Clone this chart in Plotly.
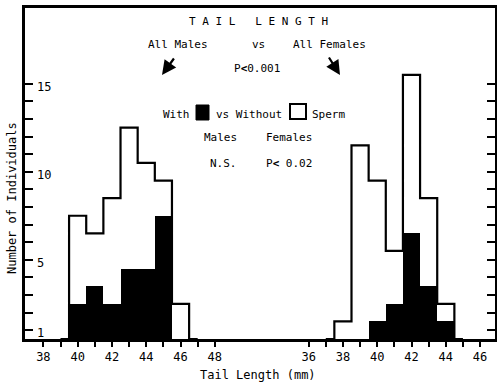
import plotly.graph_objects as go

# ---------------- data ----------------
male_bins = [40, 41, 42, 43, 44, 45, 46]
male_total = [7, 6, 8, 12, 10, 9, 2]
male_with = [2, 3, 2, 4, 4, 7, 0]

female_bins = [38, 39, 40, 41, 42, 43, 44]
female_total = [1, 11, 9, 5, 15, 8, 2]
female_with = [0, 0, 1, 2, 6, 3, 1]

male_ticks = list(range(38, 49))
female_ticks = list(range(36, 47))
count_ticks = list(range(1, 16))
count_labels = ["1", "5", "10", "15"]
# ---------------------------------------

W, H = 497, 384
L, R, T, B = 25, 2, 8, 45
PW, PH = W - L - R, H - T - B
FONT = "DejaVu Sans Mono"


def px(x):
    return (x - L) / PW


def py(y):
    return (H - B - y) / PH


def even_labels(vals):
    return [str(v) if v % 2 == 0 else "" for v in vals]


def outline(bins, totals):
    xs = [bins[0] - 1] + list(bins) + [bins[-1] + 1]
    ys = [0] + list(totals) + [0]
    return xs, ys


fig = go.Figure()

# males (left panel)
fig.add_trace(go.Bar(x=male_bins, y=male_with, width=1, marker=dict(color="black", line=dict(width=0)),
                     xaxis="x", yaxis="y", showlegend=False))
mx, my = outline(male_bins, male_total)
fig.add_trace(go.Scatter(x=mx, y=my, mode="lines", line=dict(color="black", width=2.2, shape="hvh"),
                         xaxis="x", yaxis="y", showlegend=False))

# females (right panel)
fig.add_trace(go.Bar(x=female_bins, y=female_with, width=1, marker=dict(color="black", line=dict(width=0)),
                     xaxis="x2", yaxis="y2", showlegend=False))
fx, fy = outline(female_bins, female_total)
fig.add_trace(go.Scatter(x=fx, y=fy, mode="lines", line=dict(color="black", width=2.2, shape="hvh"),
                         xaxis="x2", yaxis="y2", showlegend=False))

d = (262 - L) / PW
# ticks sit half a unit below each count (bar baseline is at 0)
ytv = [k - 0.5 for k in count_ticks]

xcommon = dict(showline=True, linewidth=3, linecolor="black", mirror=True, ticks="outside", ticklen=5,
               tickwidth=2, tickcolor="black", showgrid=False, zeroline=False,
               tickfont=dict(family=FONT, size=12, color="black"))
ycommon = dict(showline=True, linewidth=3, linecolor="black", ticks="inside", ticklen=8, tickwidth=2,
               tickcolor="black", showgrid=False, zeroline=False, range=[0, 18.8], domain=[0, 1],
               tickvals=ytv, showticklabels=False)

fig.update_layout(
    width=W, height=H, margin=dict(l=L, r=R, t=T, b=B, pad=0),
    paper_bgcolor="white", plot_bgcolor="white", bargap=0,
    font=dict(family=FONT, size=11, color="black"),
    xaxis=dict(domain=[0, d], range=[36.93, 50.75], anchor="y", tickvals=male_ticks,
               ticktext=even_labels(male_ticks), **xcommon),
    xaxis2=dict(domain=[d, 1], range=[33.28, 46.87], anchor="y2", tickvals=female_ticks,
                ticktext=even_labels(female_ticks), **xcommon),
    yaxis=dict(anchor="x", **ycommon),
    yaxis2=dict(anchor="x2", side="right", **ycommon),
)

ann = []


def text(s, x, y, size=11):
    ann.append(dict(text=s, x=px(x), y=py(y), xref="paper", yref="paper", showarrow=False,
                    xanchor="center", yanchor="middle", font=dict(family=FONT, size=size, color="black")))


# y tick labels, drawn inside the frame
for lab in count_labels:
    ann.append(dict(text=lab, x=px(35), y=int(lab) - 0.5, xref="paper", yref="y", showarrow=False,
                    xanchor="left", yanchor="top", yshift=6,
                    font=dict(family=FONT, size=12, color="black")))

text("T A I L   L E N G T H", 258, 22, 11)
text("All Males", 178, 45)
text("vs", 258, 45)
text("All Females", 329, 45)
text("P<b>&lt;</b>0.001", 257, 68)
text("With", 176, 114)
text("vs Without", 249, 114)
text("Sperm", 328, 114)
text("Males", 220, 138)
text("Females", 289, 138)
text("N.S.", 223, 163)
text("P<b>&lt;</b> 0.02", 289, 163)
text("Tail Length (mm)", 258, 375, 12)
ann.append(dict(text="Number of Individuals", x=px(12), y=py(198), xref="paper", yref="paper",
                showarrow=False, textangle=-90, xanchor="center", yanchor="middle",
                font=dict(family=FONT, size=12, color="black")))

# arrows
ann.append(dict(text="", x=px(162), y=py(75), xref="paper", yref="paper", showarrow=True,
                ax=13, ay=-18, arrowhead=2, arrowsize=1.3, arrowwidth=2.2, arrowcolor="black"))
ann.append(dict(text="", x=px(340), y=py(75), xref="paper", yref="paper", showarrow=True,
                ax=-12, ay=-19, arrowhead=2, arrowsize=1.3, arrowwidth=2.2, arrowcolor="black"))
fig.update_layout(annotations=ann)

# legend squares
fig.add_shape(type="rect", xref="paper", yref="paper", x0=px(196), x1=px(209), y0=py(120), y1=py(105),
              fillcolor="black", line=dict(color="black", width=1))
fig.add_shape(type="rect", xref="paper", yref="paper", x0=px(290), x1=px(306), y0=py(119), y1=py(104),
              fillcolor="white", line=dict(color="black", width=2))

fig.write_html("out.html")
